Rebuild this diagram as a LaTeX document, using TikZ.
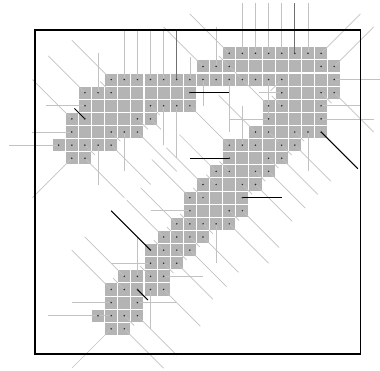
\documentclass[tikz,border=0pt]{standalone}
\usepackage{xcolor}
\usepackage{tikz}
\definecolor{pixgray}{HTML}{B4B4B4}
\definecolor{raygray}{HTML}{C2C2C2}
\definecolor{raydark}{HTML}{707070}

\begin{document}
\begin{tikzpicture}[x=13.12pt,y=-13.12pt]
  \useasboundingbox (-4.474,-4.063) rectangle (24.49,24.21);
  % shape pixels, one run per entry (row/first/last)
  \foreach \r/\a/\b in {0/13/20,1/11/21,2/4/21,3/2/10,3/17/21,4/2/10,4/16/20,
      5/1/7,5/16/20,6/1/6,6/15/20,7/0/4,7/13/18,8/1/2,8/13/17,9/12/16,
      10/11/15,11/10/14,12/10/14,13/9/13,14/8/11,15/7/10,16/7/9,17/5/8,
      18/4/8,19/4/6,20/3/6,21/4/5}
    \foreach \c in {\a,...,\b}
      \fill[pixgray] (\c-0.46,\r-0.46) rectangle (\c+0.46,\r+0.46);
  % rays from the boundary pixels
  \foreach \c/\r/\dx/\dy in {13/0/-3/-3,14/0/0/-3.8,15/0/0/-3.8,16/0/0/-3.8,
      17/0/0/-3.8,19/0/0/-3.8,20/0/3/-3,11/1/-3/-3,12/1/0/-3,21/1/3/-3,
      4/2/-3/-3,5/2/0/-3.8,6/2/0/-3.8,7/2/0/-3.8,8/2/0/-3.8,10/2/0/-1.74,
      11/2/0/2,13/2/0/4,16/2/0/3,17/2/-0.85/0.85,21/2/3.8/0,2/3/-2.8/-2.8,
      3/3/0/-3,4/3/-0.85/-0.85,17/3/-1.7/0,20/3/0.8/0.8,21/3/3/3,2/4/-3/0,
      7/4/0.7/0.7,8/4/0/3,9/4/0/4,10/4/3/3,16/4/-3.8/-3.8,17/4/-0.75/-0.75,
      20/4/3/0,1/5/-3/-3,6/5/0.8/0.8,7/5/0.8/0.8,16/5/-3/0,20/5/4/0,1/6/-3/0,
      4/6/0.7/0.7,5/6/0/3,6/6/3/3,15/6/-2.8/-2.8,16/6/0.75/0.75,18/6/0.7/0.7,
      19/6/0/3,0/7/-3.8/0,2/7/0.75/0.75,3/7/0/3,4/7/3/3,14/7/0/-3,
      17/7/0.75/0.75,18/7/2.75/2.75,1/8/-3/3,2/8/3/3,16/8/0.75/0.75,
      17/8/2.75/2.75,12/9/-2.8/-2.8,13/9/-0.75/-0.75,15/9/0.75/0.75,
      16/9/2.8/2.8,11/10/-2.8/-2.8,12/10/-0.75/-0.75,14/10/0.75/0.75,
      15/10/2.8/2.8,10/11/-2.9/-2.9,11/11/-0.75/-0.75,10/12/-3/0,
      13/12/0.75/0.75,14/12/2.8/2.8,9/13/-2.75/-2.75,10/13/-0.75/-0.75,
      11/13/0.75/0.75,12/13/0/3,13/13/3/3,8/14/-2.8/-2.8,9/14/-0.75/-0.75,
      10/14/0.75/0.75,11/14/2.7/2.7,8/15/-0.75/-0.75,9/15/0.75/0.75,
      10/15/2.8/2.8,7/16/-3/0,8/16/0.75/0.75,9/16/2.75/2.75,
      5/17/-3/-3,6/17/0/-3,7/17/-0.8/-0.8,8/17/3/0,4/18/-3/-3,
      5/18/-0.85/-0.85,7/18/0/3,8/18/2.8/2.8,4/19/-3/0,6/19/3/0,3/20/-3.8/0,
      4/20/-1.7/0,5/20/0.75/0.75,6/20/3/3,4/21/-3/3,5/21/3/3}
    \draw[raygray,line width=0.7pt] (\c,\r) -- ++(\dx,\dy);
  \foreach \c/\r/\dx/\dy in {9/2/0/-3.8,18/0/0/-3.8}
    \draw[raydark,line width=1.2pt] (\c,\r) -- ++(\dx,\dy);
  \foreach \c/\r/\dx/\dy in {10/3/3/0,2/5/-0.8/-0.8,20/6/2.8/2.8,13/8/-3/0,
      14/11/3/0,7/15/-3/-3,6/18/0.8/0.8}
    \draw[black,line width=1pt] (\c,\r) -- ++(\dx,\dy);
  % boundary dots
  \foreach \r/\cs in {0/{13,...,20},1/{11,12,13,20,21},2/{4,...,17,21},
      3/{2,3,4,10,17,20,21},4/{2,7,8,9,10,16,17,20},5/{1,2,6,7,16,20},
      6/{1,4,5,6,15,16,18,19,20},7/{0,1,2,3,4,13,14,15,17,18},
      8/{1,2,13,16,17},9/{12,13,15,16},10/{11,12,14,15},11/{10,11,14},
      12/{10,13,14},13/{9,...,13},14/{8,...,11},15/{7,...,10},16/{7,8,9},
      17/{5,...,8},18/{4,...,8},19/{4,6},20/{3,...,6},21/{4,5}}
    \foreach \c in \cs
      \fill[black!85] (\c,\r) circle[radius=0.065];
  % frame
  \draw[black,line width=1.2pt] (-1.8,-1.78) rectangle (23.03,22.92);
\end{tikzpicture}
\end{document}
